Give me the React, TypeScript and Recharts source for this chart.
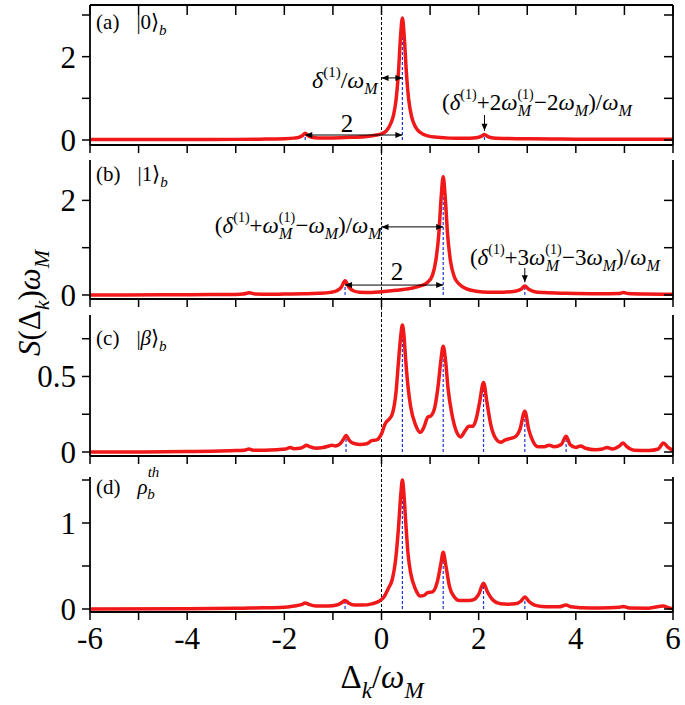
import React from "react";
import { LineChart, Line, XAxis, YAxis, ReferenceLine, ReferenceDot } from "recharts";

const RED = "#f01818";
const BLUE = "#2233d8";

const xTicks = [-6, -5, -4, -3, -2, -1, 0, 1, 2, 3, 4, 5, 6];

// (a) |0>_b  -- [Δk/ωM, S ωM]
const specA: [number, number][] = [
  [-6, 0.01], [-5, 0.01], [-4, 0.012], [-3, 0.015], [-2.5, 0.02], [-2, 0.03], [-1.8, 0.045],
  [-1.7, 0.065], [-1.63, 0.1], [-1.57, 0.16], [-1.51, 0.1], [-1.44, 0.065], [-1.3, 0.05],
  [-1, 0.05], [-0.6, 0.065], [-0.3, 0.085], [-0.1, 0.12], [0, 0.15], [0.1, 0.22], [0.2, 0.42],
  [0.25, 0.61], [0.3, 0.97], [0.35, 1.64], [0.39, 2.45], [0.43, 2.93], [0.47, 2.45], [0.51, 1.66],
  [0.56, 0.97], [0.62, 0.56], [0.7, 0.31], [0.8, 0.18], [0.95, 0.1], [1.15, 0.065], [1.4, 0.045],
  [1.7, 0.04], [1.95, 0.055], [2.05, 0.085], [2.12, 0.13], [2.19, 0.08], [2.3, 0.05], [2.6, 0.035],
  [3, 0.03], [3.5, 0.025], [4, 0.02], [5, 0.02], [6, 0.02],
];

// (b) |1>_b
const specB: [number, number][] = [
  [-6, 0], [-4.5, 0.003], [-3.5, 0.008], [-3, 0.012], [-2.85, 0.02], [-2.72, 0.045], [-2.6, 0.02],
  [-2.3, 0.015], [-2, 0.02], [-1.6, 0.025], [-1.3, 0.035], [-1.05, 0.055], [-0.92, 0.09],
  [-0.83, 0.16], [-0.75, 0.3], [-0.67, 0.16], [-0.58, 0.09], [-0.45, 0.06], [-0.2, 0.055],
  [0, 0.07], [0.3, 0.1], [0.6, 0.14], [0.8, 0.19], [0.95, 0.27], [1.05, 0.42], [1.12, 0.74],
  [1.18, 1.29], [1.23, 2.09], [1.27, 2.5], [1.31, 2.09], [1.36, 1.28], [1.42, 0.72], [1.5, 0.38],
  [1.6, 0.23], [1.75, 0.13], [1.95, 0.08], [2.2, 0.06], [2.5, 0.06], [2.75, 0.08], [2.87, 0.12],
  [2.95, 0.19], [3.03, 0.12], [3.15, 0.07], [3.35, 0.05], [3.8, 0.035], [4.5, 0.025],
  [4.88, 0.03], [4.98, 0.05], [5.08, 0.03], [5.4, 0.02], [6, 0.015],
];

// (c) |β>_b
const specC: [number, number][] = [
  [-6, 0], [-5, 0], [-4, 0.003], [-3.5, 0.005], [-3, 0.01], [-2.82, 0.012], [-2.73, 0.02],
  [-2.64, 0.012], [-2.4, 0.012], [-2.15, 0.015], [-1.97, 0.02], [-1.88, 0.03], [-1.8, 0.022],
  [-1.68, 0.025], [-1.6, 0.035], [-1.55, 0.045], [-1.48, 0.035], [-1.35, 0.025], [-1.2, 0.03],
  [-1.08, 0.04], [-1.02, 0.045], [-0.95, 0.04], [-0.85, 0.055], [-0.78, 0.085], [-0.73, 0.11],
  [-0.67, 0.08], [-0.6, 0.06], [-0.45, 0.05], [-0.3, 0.055], [-0.2, 0.075], [-0.1, 0.08],
  [0, 0.12], [0.08, 0.19], [0.15, 0.215], [0.22, 0.25], [0.3, 0.4], [0.35, 0.6], [0.4, 0.78],
  [0.43, 0.84], [0.46, 0.78], [0.5, 0.6], [0.55, 0.42], [0.6, 0.3], [0.7, 0.18], [0.8, 0.13],
  [0.88, 0.17], [0.95, 0.23], [1.02, 0.24], [1.1, 0.3], [1.17, 0.45], [1.22, 0.6], [1.27, 0.7],
  [1.32, 0.6], [1.37, 0.42], [1.45, 0.25], [1.55, 0.13], [1.63, 0.1], [1.72, 0.14], [1.8, 0.17],
  [1.88, 0.17], [1.95, 0.22], [2.02, 0.33], [2.1, 0.46], [2.17, 0.33], [2.25, 0.18], [2.35, 0.09],
  [2.45, 0.065], [2.55, 0.08], [2.66, 0.09], [2.75, 0.1], [2.85, 0.15], [2.95, 0.27], [3.03, 0.15],
  [3.12, 0.07], [3.22, 0.035], [3.35, 0.035], [3.45, 0.045], [3.55, 0.035], [3.7, 0.05],
  [3.8, 0.105], [3.88, 0.05], [4, 0.03], [4.1, 0.04], [4.2, 0.025], [4.4, 0.015], [4.55, 0.02],
  [4.64, 0.03], [4.75, 0.02], [4.9, 0.04], [4.97, 0.06], [5.05, 0.035], [5.2, 0.012], [5.5, 0.01],
  [5.7, 0.02], [5.8, 0.06], [5.9, 0.03], [6, 0.01],
];

// (d) thermal state
const specD: [number, number][] = [
  [-6, 0], [-4, 0.003], [-3, 0.008], [-2.7, 0.012], [-2.3, 0.015], [-2, 0.02], [-1.8, 0.035],
  [-1.65, 0.05], [-1.57, 0.07], [-1.48, 0.05], [-1.35, 0.035], [-1.1, 0.035], [-0.9, 0.05],
  [-0.8, 0.08], [-0.75, 0.1], [-0.68, 0.07], [-0.55, 0.045], [-0.4, 0.045], [-0.2, 0.06],
  [-0.05, 0.09], [0.05, 0.14], [0.15, 0.25], [0.22, 0.34], [0.3, 0.62], [0.35, 0.95], [0.4, 1.35],
  [0.43, 1.5], [0.46, 1.35], [0.5, 1.0], [0.55, 0.62], [0.6, 0.42], [0.7, 0.23], [0.8, 0.15],
  [0.88, 0.16], [0.95, 0.19], [1.05, 0.2], [1.15, 0.32], [1.22, 0.52], [1.27, 0.66], [1.32, 0.52],
  [1.4, 0.26], [1.5, 0.14], [1.6, 0.1], [1.7, 0.1], [1.8, 0.1], [1.9, 0.11], [2, 0.17], [2.1, 0.3],
  [2.18, 0.2], [2.3, 0.1], [2.45, 0.06], [2.6, 0.055], [2.75, 0.06], [2.87, 0.09], [2.95, 0.14],
  [3.03, 0.09], [3.15, 0.045], [3.3, 0.03], [3.5, 0.025], [3.65, 0.025], [3.8, 0.045], [3.9, 0.025],
  [4.1, 0.015], [4.5, 0.012], [4.9, 0.02], [4.97, 0.03], [5.1, 0.012], [5.5, 0.01], [5.8, 0.035],
  [5.9, 0.015], [6, 0.005],
];

// resonance positions (blue dashed drop lines) and their heights
const peaksA = [[-1.57, 0.16], [0.43, 2.93], [2.12, 0.13]];
const peaksB = [[-0.75, 0.3], [1.27, 2.5], [2.95, 0.19]];
const peaksC = [[-0.73, 0.11], [0.43, 0.84], [1.27, 0.7], [2.1, 0.46], [2.95, 0.27], [3.8, 0.105]];
const peaksD = [[-0.75, 0.1], [0.43, 1.5], [1.27, 0.66], [2.1, 0.3], [2.95, 0.14]];

const toRows = (spec: [number, number][]) => spec.map(([x, y]) => ({ x, y }));

const axisLine = { stroke: "#000", strokeWidth: 1.8 };
const tickLine = { stroke: "#000", strokeWidth: 1.5 };
const tickFont = { fill: "#000", fontSize: 31 };

function ArrowShape(p: any) {
  const { x1, y1, x2, y2, both } = p;
  const len = Math.hypot(x2 - x1, y2 - y1) || 1;
  const ux = (x2 - x1) / len;
  const uy = (y2 - y1) / len;
  const L = 7;
  const W = 3;
  const head = (tx: number, ty: number, dx: number, dy: number) =>
    `${tx},${ty} ${tx - dx * L - dy * W},${ty - dy * L + dx * W} ${tx - dx * L + dy * W},${ty - dy * L - dx * W}`;
  return (
    <g>
      <line x1={x1} y1={y1} x2={x2} y2={y2} stroke="#000" strokeWidth={1} />
      <polygon points={head(x2, y2, ux, uy)} fill="#000" />
      {both && <polygon points={head(x1, y1, -ux, -uy)} fill="#000" />}
    </g>
  );
}

const it = { fontStyle: "italic" as const };

function PanelTag({ cx, cy, tag, children }: any) {
  return (
    <text x={cx} y={cy} fontSize={21} fill="#000">
      <tspan>{tag}</tspan>
      {children}
    </text>
  );
}

function Formula({ cx, cy, kind }: any) {
  // kind: "d" -> δ/ωM, otherwise (δ+nω(1)M-nωM)/ωM with n = kind
  if (kind === "d") {
    return (
      <text x={cx} y={cy} fontSize={24} fill="#000">
        <tspan {...it}>δ</tspan>
        <tspan fontSize={15} dy={-11}>(1)</tspan>
        <tspan dy={11}>/</tspan>
        <tspan {...it}>ω</tspan>
        <tspan {...it} fontSize={16} dy={6}>M</tspan>
      </text>
    );
  }
  const n = kind;
  return (
    <text x={cx} y={cy} fontSize={23} fill="#000">
      <tspan>(</tspan>
      <tspan {...it}>δ</tspan>
      <tspan fontSize={14} dy={-11}>(1)</tspan>
      <tspan dy={11}>{"+" + n}</tspan>
      <tspan {...it}>ω</tspan>
      <tspan fontSize={14} dy={-11}>(1)</tspan>
      <tspan {...it} fontSize={16} dx={-16} dy={17}>M</tspan>
      <tspan dx={3} dy={-6}>{"\u2212" + n}</tspan>
      <tspan {...it}>ω</tspan>
      <tspan {...it} fontSize={16} dy={6}>M</tspan>
      <tspan dy={-6}>)/</tspan>
      <tspan {...it}>ω</tspan>
      <tspan {...it} fontSize={16} dy={6}>M</tspan>
    </text>
  );
}

function Two({ cx, cy }: any) {
  return (
    <text x={cx} y={cy} fontSize={25} fill="#000" textAnchor="middle">
      2
    </text>
  );
}

function Panel(props: any) {
  const { spec, domain, yTicks, yLabels, plotTop, plotBottom, frameTop, showXLabels, peaks, zeroSpan, children } = props;
  const data = toRows(spec);
  return (
    <div style={{ position: "absolute", left: 0, top: 0 }}>
      <LineChart
        width={685}
        height={705}
        data={data}
        margin={{ top: plotTop, right: 12, bottom: 705 - plotBottom - 20, left: 30 }}
      >
        {frameTop && (
          <XAxis
            xAxisId="t"
            orientation="top"
            type="number"
            dataKey="x"
            domain={[-6, 6]}
            ticks={xTicks}
            interval={0}
            mirror
            tickSize={10}
            height={10}
            tickFormatter={() => ""}
            axisLine={axisLine}
            tickLine={tickLine}
          />
        )}
        <XAxis
          type="number"
          dataKey="x"
          domain={[-6, 6]}
          ticks={xTicks}
          interval={0}
          height={20}
          tickSize={8}
          tickMargin={7}
          tickFormatter={(v: number) => (showXLabels && v % 2 === 0 ? String(v) : "")}
          tick={tickFont}
          axisLine={axisLine}
          tickLine={tickLine}
        />
        <YAxis
          type="number"
          domain={domain}
          allowDataOverflow
          ticks={yTicks}
          interval={0}
          width={60}
          tickSize={8}
          tickMargin={6}
          tickFormatter={(v: number) => (yLabels.includes(v) ? String(v) : "")}
          tick={tickFont}
          axisLine={axisLine}
          tickLine={tickLine}
        />
        <YAxis
          yAxisId="r"
          orientation="right"
          type="number"
          domain={domain}
          allowDataOverflow
          ticks={yTicks}
          interval={0}
          mirror
          width={10}
          tickSize={9}
          tickFormatter={() => ""}
          axisLine={axisLine}
          tickLine={tickLine}
        />
        <ReferenceLine
          segment={[{ x: 0, y: zeroSpan[0] }, { x: 0, y: zeroSpan[1] }]}
          ifOverflow="visible"
          stroke="#000"
          strokeWidth={1}
          strokeDasharray="3 2"
        />
        {peaks.map(([px, py]: number[], i: number) => (
          <ReferenceLine
            key={"pk" + i}
            segment={[{ x: px, y: 0 }, { x: px, y: py }]}
            ifOverflow="visible"
            stroke={BLUE}
            strokeWidth={1.2}
            strokeDasharray="3 2"
          />
        ))}
        <Line
          type="monotone"
          dataKey="y"
          stroke={RED}
          strokeWidth={3.5}
          dot={false}
          activeDot={false}
          isAnimationActive={false}
        />
        {children}
      </LineChart>
    </div>
  );
}

const arrow = (key: string, a: number[], b: number[], both: boolean) => (
  <ReferenceLine
    key={key}
    segment={[{ x: a[0], y: a[1] }, { x: b[0], y: b[1] }]}
    ifOverflow="visible"
    shape={(p: any) => <ArrowShape {...p} both={both} />}
  />
);

const note = (key: string, x: number, y: number, render: (p: any) => React.ReactElement) => (
  <ReferenceDot key={key} x={x} y={y} r={1} ifOverflow="visible" shape={render} />
);

export default function App() {
  return (
    <div style={{ position: "absolute", left: 0, top: 0, width: 685, height: 705, background: "#fff" }}>
      <Panel
        spec={specA}
        domain={[-0.12, 3.24]}
        yTicks={[0, 1, 2, 3]}
        yLabels={[0, 2]}
        plotTop={5}
        plotBottom={145}
        frameTop
        peaks={peaksA}
        zeroSpan={[-0.48, 3.24]}
      >
        {note("ta", -5.875, 2.66, (p) => (
          <PanelTag cx={p.cx} cy={p.cy} tag="(a)">
            <tspan dx={17}>|0⟩</tspan>
            <tspan {...it} fontSize={15} dy={6}>b</tspan>
          </PanelTag>
        ))}
        {note("fa1", -1.43, 1.25, (p) => <Formula cx={p.cx} cy={p.cy} kind="d" />)}
        {arrow("aa1", [0, 1.49], [0.43, 1.49], true)}
        {note("fa2", -0.71, 0.19, (p) => <Two cx={p.cx} cy={p.cy} />)}
        {arrow("aa2", [-1.57, 0.12], [0.43, 0.12], true)}
        {note("fa3", 1.245, 0.72, (p) => <Formula cx={p.cx} cy={p.cy} kind="2" />)}
        {arrow("aa3", [2.12, 0.6], [2.12, 0.22], false)}
      </Panel>

      <Panel
        spec={specB}
        domain={[-0.085, 2.854]}
        yTicks={[0, 1, 2]}
        yLabels={[0, 2]}
        plotTop={160}
        plotBottom={299}
        peaks={peaksB}
        zeroSpan={[-0.42, 3.2]}
      >
        {note("tb", -5.875, 2.41, (p) => (
          <PanelTag cx={p.cx} cy={p.cy} tag="(b)">
            <tspan dx={17}>|1⟩</tspan>
            <tspan {...it} fontSize={15} dy={6}>b</tspan>
          </PanelTag>
        ))}
        {note("fb1", -3.43, 1.31, (p) => <Formula cx={p.cx} cy={p.cy} kind="" />)}
        {arrow("ab1", [0, 1.44], [1.27, 1.44], true)}
        {note("fb2", 0.32, 0.32, (p) => <Two cx={p.cx} cy={p.cy} />)}
        {arrow("ab2", [-0.75, 0.21], [1.27, 0.21], true)}
        {note("fb3", 1.82, 0.63, (p) => <Formula cx={p.cx} cy={p.cy} kind="3" />)}
        {arrow("ab3", [2.95, 0.57], [2.95, 0.27], false)}
      </Panel>

      <Panel
        spec={specC}
        domain={[-0.0265, 0.907]}
        yTicks={[0, 0.25, 0.5, 0.75]}
        yLabels={[0, 0.5]}
        plotTop={315}
        plotBottom={456}
        peaks={peaksC}
        zeroSpan={[-0.166, 0.907]}
      >
        {note("tc", -5.875, 0.71, (p) => (
          <PanelTag cx={p.cx} cy={p.cy} tag="(c)">
            <tspan dx={17}>|</tspan>
            <tspan {...it}>β</tspan>
            <tspan>⟩</tspan>
            <tspan {...it} fontSize={15} dy={6}>b</tspan>
          </PanelTag>
        ))}
      </Panel>

      <Panel
        spec={specD}
        domain={[-0.035, 1.535]}
        yTicks={[0, 0.5, 1, 1.5]}
        yLabels={[0, 1]}
        plotTop={477}
        plotBottom={612}
        showXLabels
        peaks={peaksD}
        zeroSpan={[-0.035, 1.535]}
      >
        {note("td", -5.875, 1.34, (p) => (
          <PanelTag cx={p.cx} cy={p.cy} tag="(d)">
            <tspan dx={17} {...it}>ρ</tspan>
            <tspan {...it} fontSize={15} dy={-17}>th</tspan>
            <tspan {...it} fontSize={15} dx={-12} dy={22}>b</tspan>
          </PanelTag>
        ))}
      </Panel>

      <svg width={685} height={705} style={{ position: "absolute", left: 0, top: 0, pointerEvents: "none" }}>
        <text transform="translate(40,303) rotate(-90)" textAnchor="middle" fontSize={31} fill="#000">
          <tspan {...it}>S</tspan>
          <tspan>(Δ</tspan>
          <tspan {...it} fontSize={22} dy={9}>k</tspan>
          <tspan dy={-9}>)</tspan>
          <tspan {...it}>ω</tspan>
          <tspan {...it} fontSize={22} dy={9}>M</tspan>
        </text>
        <text x={382} y={688} textAnchor="middle" fontSize={33} fill="#000">
          <tspan>Δ</tspan>
          <tspan {...it} fontSize={23} dy={10}>k</tspan>
          <tspan dy={-10}>/</tspan>
          <tspan {...it}>ω</tspan>
          <tspan {...it} fontSize={23} dy={10}>M</tspan>
        </text>
      </svg>
    </div>
  );
}
